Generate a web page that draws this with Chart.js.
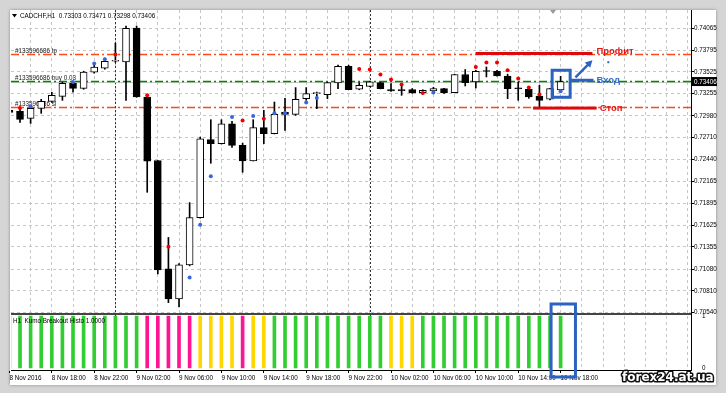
<!DOCTYPE html>
<html lang="ru">
<head>
<meta charset="utf-8">
<title>CADCHF,H1</title>
<script src="https://cdn.jsdelivr.net/npm/chart.js@4.4.1/dist/chart.umd.min.js"></script>
<style>
    html, body { margin: 0; padding: 0; }
    body { width: 726px; height: 393px; background: #d5d5d5; position: relative; overflow: hidden; }
    .panel { position: absolute; left: 10px; top: 10px; width: 706px; height: 375px; background: #fff; box-shadow: 0 0 3px rgba(0, 0, 0, 0.35); }
    #wrap { position: absolute; left: 0; top: 0; width: 726px; height: 393px; }
</style>
</head>
<body>
<div class="panel"></div>
<div id="wrap"><canvas id="mt4Chart" width="726" height="393"></canvas></div>
<script>
// 足の時刻 (H1)
const barTimes = [
    '8 Nov 14:00', '8 Nov 15:00', '8 Nov 16:00', '8 Nov 17:00', '8 Nov 18:00', '8 Nov 19:00', '8 Nov 20:00', '8 Nov 21:00', '8 Nov 22:00', '8 Nov 23:00',
    '9 Nov 00:00', '9 Nov 01:00', '9 Nov 02:00', '9 Nov 03:00', '9 Nov 04:00', '9 Nov 05:00', '9 Nov 06:00', '9 Nov 07:00', '9 Nov 08:00', '9 Nov 09:00',
    '9 Nov 10:00', '9 Nov 11:00', '9 Nov 12:00', '9 Nov 13:00', '9 Nov 14:00', '9 Nov 15:00', '9 Nov 16:00', '9 Nov 17:00', '9 Nov 18:00', '9 Nov 19:00',
    '9 Nov 20:00', '9 Nov 21:00', '9 Nov 22:00', '9 Nov 23:00', '10 Nov 00:00', '10 Nov 01:00', '10 Nov 02:00', '10 Nov 03:00', '10 Nov 04:00', '10 Nov 05:00',
    '10 Nov 06:00', '10 Nov 07:00', '10 Nov 08:00', '10 Nov 09:00', '10 Nov 10:00', '10 Nov 11:00', '10 Nov 12:00', '10 Nov 13:00', '10 Nov 14:00', '10 Nov 15:00',
    '10 Nov 16:00', '10 Nov 17:00', '10 Nov 18:00'
];

const opens = [
    0.73049, 0.73036, 0.72949, 0.73074, 0.73161, 0.73223, 0.73385, 0.73322, 0.73522, 0.73571,
    0.73658, 0.73650, 0.74069, 0.73214, 0.72427, 0.71084, 0.70711, 0.71133, 0.71718, 0.72688,
    0.72635, 0.72883, 0.72614, 0.72423, 0.72834, 0.72759, 0.73024, 0.72999, 0.73194, 0.73257,
    0.73244, 0.73388, 0.73596, 0.73310, 0.73347, 0.73393, 0.73306, 0.73298, 0.73306, 0.73269,
    0.73289, 0.73319, 0.73269, 0.73493, 0.73401, 0.73534, 0.73534, 0.73475, 0.73319, 0.73310,
    0.73227, 0.73186, 0.73303
];
const highs = [
    0.73074, 0.73061, 0.73099, 0.73186, 0.73273, 0.73397, 0.73397, 0.73534, 0.73621, 0.73696,
    0.73882, 0.74094, 0.74094, 0.73229, 0.72427, 0.71473, 0.71150, 0.71905, 0.72717, 0.72933,
    0.72933, 0.72912, 0.72642, 0.72933, 0.73049, 0.73152, 0.73198, 0.73331, 0.73331, 0.73276,
    0.73397, 0.73609, 0.73609, 0.73393, 0.73410, 0.73397, 0.73381, 0.73360, 0.73319, 0.73304,
    0.73335, 0.73322, 0.73497, 0.73555, 0.73546, 0.73587, 0.73546, 0.73497, 0.73401, 0.73322,
    0.73360, 0.73322, 0.73471
];
const lows = [
    0.72999, 0.72900, 0.72887, 0.73012, 0.73148, 0.73173, 0.73273, 0.73310, 0.73509, 0.73559,
    0.73646, 0.73173, 0.73211, 0.72033, 0.71021, 0.70665, 0.70611, 0.71121, 0.71712, 0.72393,
    0.72632, 0.72589, 0.72281, 0.72421, 0.72635, 0.72757, 0.72800, 0.72987, 0.73173, 0.73070,
    0.73194, 0.73319, 0.73304, 0.73304, 0.73341, 0.73315, 0.73285, 0.73235, 0.73260, 0.73267,
    0.73285, 0.73260, 0.73267, 0.73351, 0.73326, 0.73463, 0.73472, 0.73194, 0.73173, 0.73198,
    0.73077, 0.73179, 0.73298
];
const closes = [
    0.73024, 0.72937, 0.73074, 0.73161, 0.73235, 0.73385, 0.73322, 0.73522, 0.73584, 0.73658,
    0.73665, 0.74065, 0.73214, 0.72418, 0.71071, 0.70711, 0.71133, 0.71718, 0.72697, 0.72635,
    0.72883, 0.72614, 0.72423, 0.72834, 0.72759, 0.72999, 0.72999, 0.73186, 0.73257, 0.73260,
    0.73393, 0.73596, 0.73306, 0.73360, 0.73401, 0.73319, 0.73289, 0.73294, 0.73264, 0.73298,
    0.73319, 0.73264, 0.73493, 0.73393, 0.73534, 0.73530, 0.73475, 0.73319, 0.73315, 0.73214,
    0.73173, 0.73319, 0.73406
];

// 赤・青のドット (インジケーター)
const upDotBars = [1, 10, 13, 15, 22, 24, 33, 34, 35, 36, 37, 39, 44, 45, 46, 47, 48, 49, 50];
const upDotPrices = [0.73077, 0.73742, 0.73235, 0.71357, 0.72924, 0.72946, 0.73563, 0.73555, 0.73493, 0.73431,
    0.73368, 0.73264, 0.73587, 0.73642, 0.73642, 0.73546, 0.73443, 0.73331, 0.73244];
const dnDotBars = [0, 2, 6, 8, 9, 17, 18, 19, 21, 23, 25, 26, 28, 29, 40, 52];
const dnDotPrices = [0.73136, 0.73099, 0.73401, 0.73630, 0.73683, 0.70975, 0.71631, 0.72232, 0.72966, 0.72978,
    0.73012, 0.73015, 0.73145, 0.73202, 0.73269, 0.73285];

// Kumo Breakout Histo: up / down / flat
const kumoState = [
    'up', 'up', 'up', 'up', 'up', 'up', 'up', 'up', 'up', 'up',
    'up', 'up', 'up', 'down', 'down', 'down', 'down', 'down', 'flat', 'flat',
    'flat', 'flat', 'down', 'flat', 'flat', 'up', 'up', 'up', 'up', 'up',
    'up', 'up', 'up', 'up', 'up', 'up', 'flat', 'flat', 'flat', 'up',
    'up', 'up', 'up', 'up', 'up', 'up', 'up', 'up', 'up', 'up',
    'up', 'up', 'up'
];
const kumoValue = [
    1, 1, 1, 1, 1, 1, 1, 1, 1, 1,
    1, 1, 1, 1, 1, 1, 1, 1, 1, 1,
    1, 1, 1, 1, 1, 1, 1, 1, 1, 1,
    1, 1, 1, 1, 1, 1, 1, 1, 1, 1,
    1, 1, 1, 1, 1, 1, 1, 1, 1, 1,
    1, 1, 1
];

// 目盛り
const priceTicks = [0.74065, 0.73795, 0.73525, 0.73255, 0.72980, 0.72710, 0.72440, 0.72165,
    0.71895, 0.71625, 0.71355, 0.71080, 0.70810, 0.70540];
const tickLabels = ['8 Nov 2016', '8 Nov 18:00', '8 Nov 22:00', '9 Nov 02:00', '9 Nov 06:00', '9 Nov 10:00',
    '9 Nov 14:00', '9 Nov 18:00', '9 Nov 22:00', '10 Nov 02:00', '10 Nov 06:00', '10 Nov 10:00',
    '10 Nov 14:00', '10 Nov 18:00'];
const daySeparators = [10, 34];

// 注文ライン
const orderLabels = ['#133596686 tp', '#133596686 buy 0.03', '#133596686 sl'];
const orderPrices = [0.73745, 0.73418, 0.73086];
const orderColors = ['#ff4a14', '#008a00', '#ff4a14'];

// 手書きの注釈 (足番号と価格で指定)
const profitMark = { from: 44.0, to: 55.0, price: 0.73754 };
const stopMark = { from: 49.4, to: 55.4, price: 0.73077 };
const entryBox = { from: 51.2, to: 52.9, top: 0.73546, bottom: 0.73211 };
const entryLine = { from: 52.9, to: 55.1, price: 0.73422 };
const entryArrow = { fromX: 53.4, fromY: 0.73459, toX: 55.0, toY: 0.73671 };
const histoBox = { from: 51.1, to: 53.4, top: 0.70648 };

const kumoColors = { up: '#32cd32', down: '#ff1493', flat: '#ffd700' };
const FONT = '"Liberation Sans", Arial, sans-serif';

Chart.defaults.font.family = FONT;
Chart.defaults.font.size = 6.3;
Chart.defaults.color = '#000';

const idx = barTimes.map((t, i) => i);

// 装飾プラグイン
const mt4Decor = {
    id: 'mt4Decor',
    beforeDatasetsDraw(chart) {
        const { ctx, chartArea: a, scales: { x, y } } = chart;
        ctx.save();
        ctx.beginPath();
        ctx.rect(a.left, a.top, a.right - a.left, a.bottom - a.top);
        ctx.clip();

        // 日付区切り
        ctx.strokeStyle = '#333';
        ctx.lineWidth = 1;
        ctx.setLineDash([2, 2]);
        daySeparators.forEach(i => {
            const px = Math.round(x.getPixelForValue(i)) + 0.5;
            ctx.beginPath();
            ctx.moveTo(px, a.top);
            ctx.lineTo(px, a.bottom);
            ctx.stroke();
        });

        // Bid ライン
        ctx.setLineDash([]);
        ctx.strokeStyle = '#c8c8c8';
        const bidY = Math.round(y.getPixelForValue(closes[closes.length - 1])) + 0.5;
        ctx.beginPath();
        ctx.moveTo(a.left, bidY);
        ctx.lineTo(a.right, bidY);
        ctx.stroke();

        // 注文ライン
        ctx.font = '6.3px ' + FONT;
        ctx.textBaseline = 'alphabetic';
        orderPrices.forEach((p, k) => {
            const py = Math.round(y.getPixelForValue(p)) + 0.5;
            ctx.strokeStyle = orderColors[k];
            ctx.lineWidth = 1.3;
            ctx.setLineDash([8, 3, 2, 3]);
            ctx.beginPath();
            ctx.moveTo(a.left, py);
            ctx.lineTo(a.right, py);
            ctx.stroke();
            ctx.fillStyle = '#222';
            ctx.fillText(orderLabels[k], 15, py - 2);
        });
        ctx.restore();
    },
    afterDraw(chart) {
        const { ctx, chartArea: a, scales: { x, y, y2 } } = chart;
        const px = v => x.getPixelForValue(v);
        const py = v => y.getPixelForValue(v);
        ctx.save();

        // ウィンドウ区切り
        ctx.fillStyle = '#444';
        ctx.fillRect(a.left, y.bottom - 1, a.right - a.left, 2);

        // タイトル
        ctx.fillStyle = '#000';
        ctx.beginPath();
        ctx.moveTo(12, 14);
        ctx.lineTo(17, 14);
        ctx.lineTo(14.5, 17.5);
        ctx.closePath();
        ctx.fill();
        const last = closes.length - 1;
        ctx.font = '6.3px ' + FONT;
        ctx.textBaseline = 'middle';
        ctx.fillText('CADCHF,H1  ' + opens[last].toFixed(5) + ' ' + highs[last].toFixed(5) + ' ' +
            lows[last].toFixed(5) + ' ' + closes[last].toFixed(5), 20, 16.5);

        // サブウィンドウ名
        ctx.fillText('H1  Kumo Breakout Histo 1.0000', 13, y2.top + 7);

        // チャートシフト印
        ctx.fillStyle = '#9a9a9a';
        ctx.beginPath();
        ctx.moveTo(550, 10);
        ctx.lineTo(556, 10);
        ctx.lineTo(553, 14);
        ctx.closePath();
        ctx.fill();

        // 現在値ラベル
        const cy = py(closes[last]);
        ctx.fillStyle = '#000';
        ctx.fillRect(a.right + 1, cy - 4.5, 25, 9);
        ctx.fillStyle = '#fff';
        ctx.fillText(closes[last].toFixed(5), a.right + 3, cy + 0.5);

        // 利確・損切りライン
        ctx.fillStyle = '#dd0a0a';
        [profitMark, stopMark].forEach(m => {
            const yy = py(m.price);
            ctx.fillRect(px(m.from), yy - 1.5, px(m.to) - px(m.from), 3);
        });
        ctx.font = 'bold 9.5px ' + FONT;
        ctx.fillStyle = '#e01414';
        ctx.fillText('Профит', px(profitMark.to) + 4, py(profitMark.price) - 2.5);
        ctx.fillText('Стоп', px(stopMark.to) + 3, py(stopMark.price));

        // エントリー
        ctx.strokeStyle = '#2d63c0';
        ctx.lineWidth = 3;
        ctx.strokeRect(px(entryBox.from), py(entryBox.top), px(entryBox.to) - px(entryBox.from), py(entryBox.bottom) - py(entryBox.top));
        ctx.beginPath();
        ctx.moveTo(px(entryLine.from), py(entryLine.price));
        ctx.lineTo(px(entryLine.to), py(entryLine.price));
        ctx.stroke();
        ctx.fillStyle = '#3470c6';
        ctx.fillText('Вход', px(entryLine.to) + 3, py(entryLine.price));

        // 矢印
        const ax0 = px(entryArrow.fromX), ay0 = py(entryArrow.fromY);
        const ax1 = px(entryArrow.toX), ay1 = py(entryArrow.toY);
        const ang = Math.atan2(ay1 - ay0, ax1 - ax0);
        ctx.lineWidth = 2.5;
        ctx.beginPath();
        ctx.moveTo(ax0, ay0);
        ctx.lineTo(ax1 - 4 * Math.cos(ang), ay1 - 4 * Math.sin(ang));
        ctx.stroke();
        ctx.fillStyle = '#2d63c0';
        ctx.beginPath();
        ctx.moveTo(ax1, ay1);
        ctx.lineTo(ax1 - 8 * Math.cos(ang - 0.5), ay1 - 8 * Math.sin(ang - 0.5));
        ctx.lineTo(ax1 - 8 * Math.cos(ang + 0.5), ay1 - 8 * Math.sin(ang + 0.5));
        ctx.closePath();
        ctx.fill();
        ctx.fillRect(px(56.5) - 1, py(0.73646) - 1, 2, 2);

        // ヒストグラム側の枠
        ctx.lineWidth = 3;
        ctx.strokeRect(px(histoBox.from), py(histoBox.top), px(histoBox.to) - px(histoBox.from), a.bottom + 7 - py(histoBox.top));

        // ウォーターマーク
        ctx.font = 'bold 12px "DejaVu Sans", sans-serif';
        ctx.lineJoin = 'round';
        ctx.lineWidth = 3;
        ctx.strokeStyle = '#111';
        ctx.strokeText('forex24.at.ua', 622, 377.5);
        ctx.fillStyle = '#fff';
        ctx.fillText('forex24.at.ua', 622, 377.5);
        ctx.restore();
    }
};

new Chart(document.getElementById('mt4Chart'), {
    type: 'bar',
    data: {
        datasets: [
            {
                type: 'scatter',
                data: upDotBars.map((b, k) => ({ x: b, y: upDotPrices[k] })),
                backgroundColor: '#f00000',
                pointRadius: 2,
                pointBorderWidth: 0,
                yAxisID: 'y',
                order: 0
            },
            {
                type: 'scatter',
                data: dnDotBars.map((b, k) => ({ x: b, y: dnDotPrices[k] })),
                backgroundColor: '#3a66dd',
                pointRadius: 2,
                pointBorderWidth: 0,
                yAxisID: 'y',
                order: 0
            },
            {
                // ローソク足の実体
                data: idx.map(i => ({ x: i, y: [opens[i], closes[i]] })),
                backgroundColor: idx.map(i => closes[i] >= opens[i] ? '#fff' : '#000'),
                borderColor: '#000',
                borderWidth: 1,
                borderSkipped: false,
                barThickness: 7,
                minBarLength: 1,
                grouped: false,
                yAxisID: 'y',
                order: 1
            },
            {
                // ヒゲ
                data: idx.map(i => ({ x: i, y: [lows[i], highs[i]] })),
                backgroundColor: '#000',
                barThickness: 1,
                grouped: false,
                yAxisID: 'y',
                order: 2
            },
            {
                // Kumo Breakout Histo
                data: idx.map(i => ({ x: i, y: kumoValue[i] })),
                backgroundColor: idx.map(i => kumoColors[kumoState[i]]),
                barThickness: 3,
                grouped: false,
                yAxisID: 'y2',
                order: 3
            }
        ]
    },
    options: {
        responsive: false,
        animation: false,
        layout: { padding: { left: 11, top: 10, right: 0, bottom: 8 } },
        plugins: {
            legend: { display: false },
            tooltip: { enabled: false }
        },
        scales: {
            x: {
                type: 'linear',
                position: 'bottom',
                min: 0.15,
                max: 64.3,
                offset: false,
                afterBuildTicks: axis => {
                    const t = [];
                    for (let v = 0; v <= 64; v += 2) t.push({ value: v });
                    axis.ticks = t;
                },
                afterFit: axis => { axis.height = 15; },
                ticks: {
                    autoSkip: false,
                    maxRotation: 0,
                    minRotation: 0,
                    align: 'start',
                    padding: 1,
                    callback: v => (v % 4 === 0 && tickLabels[v / 4]) ? tickLabels[v / 4] : ''
                },
                grid: {
                    offset: false,
                    color: c => (c.tick && c.tick.value < 0.15) ? 'rgba(0,0,0,0)' : '#c6c6c6',
                    tickColor: c => (c.tick && c.tick.value % 4 === 0 && c.tick.value / 4 < tickLabels.length) ? '#000' : 'rgba(0,0,0,0)',
                    tickLength: 3
                },
                border: { color: '#000', dash: [3, 3] }
            },
            y: {
                type: 'linear',
                position: 'right',
                stack: 'mt4',
                stackWeight: 304,
                min: 0.70524,
                max: 0.74293,
                afterBuildTicks: axis => { axis.ticks = priceTicks.map(v => ({ value: v })); },
                afterFit: axis => { axis.width = 35; },
                ticks: { padding: 0, callback: v => v.toFixed(5) },
                grid: { color: '#c6c6c6', tickColor: '#000', tickLength: 3 },
                border: { color: '#000', dash: [3, 3] }
            },
            y2: {
                type: 'linear',
                position: 'right',
                stack: 'mt4',
                stackWeight: 56,
                min: -0.04,
                max: 1.04,
                afterBuildTicks: axis => { axis.ticks = [{ value: 1 }, { value: 0 }]; },
                afterFit: axis => { axis.width = 35; },
                ticks: { padding: 3, callback: v => String(v) },
                grid: { display: false },
                border: { color: '#000' }
            }
        }
    },
    plugins: [mt4Decor]
});
</script>
</body>
</html>
